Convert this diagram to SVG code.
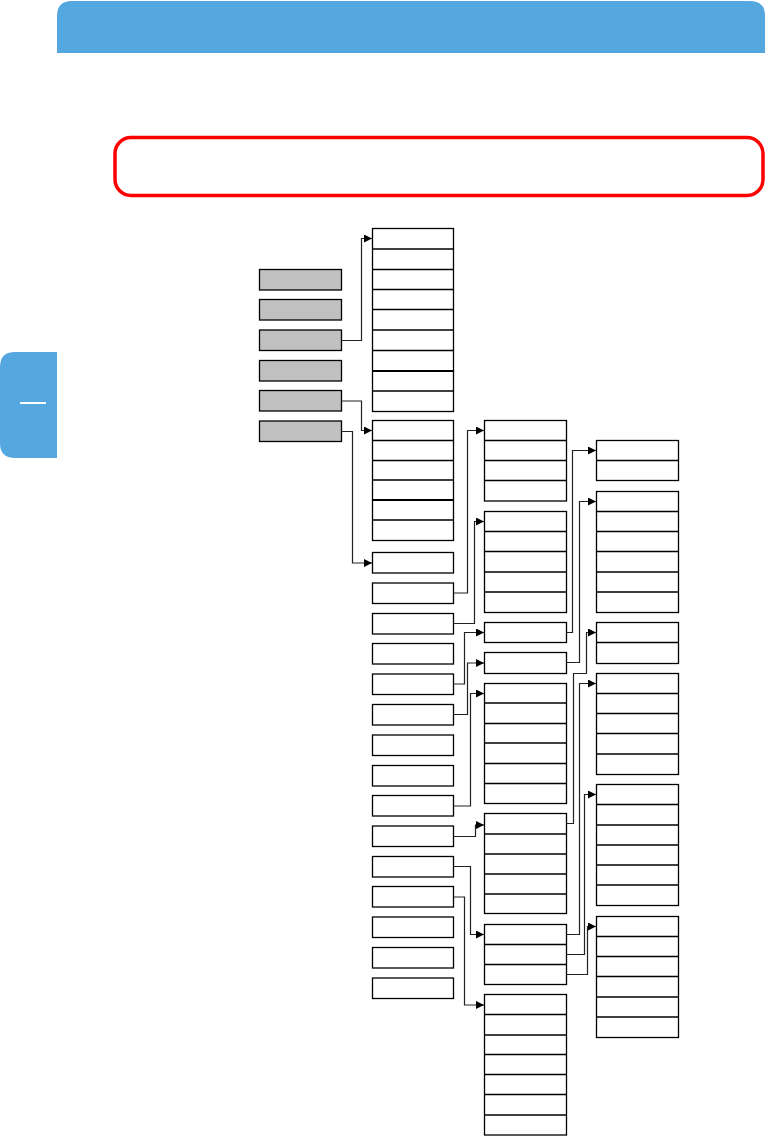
<svg xmlns="http://www.w3.org/2000/svg" width="766" height="1136" viewBox="0 0 766 1136">
<style>
.box{fill:#fff;stroke:#000;stroke-width:1.3}
.gray{fill:#c0c0c0;stroke:#000;stroke-width:1.3}
.div{stroke:#000;stroke-width:1.3}
.thick{stroke:#000;stroke-width:2.2}
.conn{fill:none;stroke:#222;stroke-width:1.2;marker-end:url(#arr)}
</style>
<defs>
<marker id="arr" markerUnits="userSpaceOnUse" markerWidth="9" markerHeight="8" refX="8" refY="4" orient="auto">
<path d="M0,0 L8,4 L0,8 z" fill="#000"/>
</marker>
</defs>
<g id="header"><path d="M57,53 V16 Q57,1 72,1 H750 Q765,1 765,16 V53 Z" fill="#55a7e0"/></g>
<g id="note"><rect x="115" y="137.5" width="648" height="58" rx="16" fill="#fff" stroke="#ff0000" stroke-width="3.5"/></g>
<g id="tab"><path d="M57,352 V458 H15 Q0,458 0,443 V367 Q0,352 15,352 Z" fill="#55a7e0"/><line x1="20" y1="403" x2="46" y2="403" stroke="#fff" stroke-width="2"/></g>

<g id="menu">
<rect class="gray" x="259.5" y="269.5" width="82" height="20.5"/>
<rect class="gray" x="259.5" y="299.5" width="82" height="20.5"/>
<rect class="gray" x="259.5" y="330" width="82" height="20.5"/>
<rect class="gray" x="259.5" y="360.5" width="82" height="20.5"/>
<rect class="gray" x="259.5" y="390.5" width="82" height="20.5"/>
<rect class="gray" x="259.5" y="421" width="82" height="20.5"/>
</g>

<g id="stack1">
<rect class="box" x="372.5" y="228.5" width="81" height="183"/>
<path class="div" d="M372.5,249H453.5M372.5,269.5H453.5M372.5,289.5H453.5M372.5,309.5H453.5M372.5,330H453.5M372.5,350.5H453.5M372.5,391H453.5"/>
<path class="thick" d="M372.5,371H453.5"/>
</g>
<g id="stack2">
<rect class="box" x="372.5" y="420.5" width="81" height="120"/>
<path class="div" d="M372.5,440.5H453.5M372.5,460.5H453.5M372.5,480H453.5M372.5,520H453.5"/>
<path class="thick" d="M372.5,500H453.5"/>
</g>
<g id="items">
<rect class="box" x="372.5" y="552.5" width="81" height="20.5"/>
<rect class="box" x="372.5" y="583" width="81" height="20.5"/>
<rect class="box" x="372.5" y="613.5" width="81" height="20.5"/>
<rect class="box" x="372.5" y="643.5" width="81" height="20.5"/>
<rect class="box" x="372.5" y="674" width="81" height="20.5"/>
<rect class="box" x="372.5" y="704.5" width="81" height="20.5"/>
<rect class="box" x="372.5" y="735" width="81" height="20.5"/>
<rect class="box" x="372.5" y="765.5" width="81" height="20.5"/>
<rect class="box" x="372.5" y="795.5" width="81" height="20.5"/>
<rect class="box" x="372.5" y="826" width="81" height="20.5"/>
<rect class="box" x="372.5" y="856.5" width="81" height="20.5"/>
<rect class="box" x="372.5" y="886.5" width="81" height="20.5"/>
<rect class="box" x="372.5" y="917" width="81" height="20.5"/>
<rect class="box" x="372.5" y="947.5" width="81" height="20.5"/>
<rect class="box" x="372.5" y="978" width="81" height="20.5"/>
</g>

<g id="stackA">
<rect class="box" x="484.5" y="420.5" width="82" height="80.5"/>
<path class="div" d="M484.5,440.5H566.5M484.5,460.5H566.5M484.5,480.5H566.5"/>
</g>
<g id="stackB">
<rect class="box" x="484.5" y="511.5" width="82" height="101"/>
<path class="div" d="M484.5,531.5H566.5M484.5,551.5H566.5M484.5,572H566.5M484.5,592H566.5"/>
</g>
<g id="boxC1"><rect class="box" x="484.5" y="622.5" width="82" height="20"/></g>
<g id="boxC2"><rect class="box" x="484.5" y="652.5" width="82" height="21"/></g>
<g id="stackC">
<rect class="box" x="484.5" y="683.5" width="82" height="120"/>
<path class="div" d="M484.5,703H566.5M484.5,723.5H566.5M484.5,743H566.5M484.5,763.5H566.5M484.5,783.5H566.5"/>
</g>
<g id="stackD">
<rect class="box" x="484.5" y="813.5" width="82" height="100"/>
<path class="div" d="M484.5,834H566.5M484.5,854H566.5M484.5,874H566.5M484.5,894H566.5"/>
</g>
<g id="stackE">
<rect class="box" x="484.5" y="924.5" width="82" height="60"/>
<path class="div" d="M484.5,944.5H566.5M484.5,964.5H566.5"/>
</g>
<g id="stackF">
<rect class="box" x="484.5" y="994.5" width="82" height="140.5"/>
<path class="div" d="M484.5,1014.5H566.5M484.5,1035H566.5M484.5,1054.5H566.5M484.5,1074.5H566.5M484.5,1094.5H566.5M484.5,1115H566.5"/>
</g>

<g id="stackG">
<rect class="box" x="596.5" y="440.5" width="82" height="40"/>
<path class="div" d="M596.5,460.5H678.5"/>
</g>
<g id="stackH">
<rect class="box" x="596.5" y="491.5" width="82" height="121"/>
<path class="div" d="M596.5,511.5H678.5M596.5,531.5H678.5M596.5,551.5H678.5M596.5,572H678.5M596.5,592H678.5"/>
</g>
<g id="stackI">
<rect class="box" x="596.5" y="622.5" width="82" height="41"/>
<path class="div" d="M596.5,642.5H678.5"/>
</g>
<g id="stackJ">
<rect class="box" x="596.5" y="673.5" width="82" height="101"/>
<path class="div" d="M596.5,693.5H678.5M596.5,713.5H678.5M596.5,733.5H678.5M596.5,754H678.5"/>
</g>
<g id="stackK">
<rect class="box" x="596.5" y="784.5" width="82" height="121"/>
<path class="div" d="M596.5,804.5H678.5M596.5,825H678.5M596.5,845H678.5M596.5,865H678.5M596.5,885H678.5"/>
</g>
<g id="stackL">
<rect class="box" x="596.5" y="916.5" width="82" height="121"/>
<path class="div" d="M596.5,936.5H678.5M596.5,956.5H678.5M596.5,976.5H678.5M596.5,997H678.5M596.5,1017H678.5"/>
</g>

<g id="connectors">
<path class="conn" d="M341.5,340.5H361.5V238.5H372"/>
<path class="conn" d="M341.5,401H361.5V430.5H372"/>
<path class="conn" d="M341.5,431.5H352.5V563H372"/>
<path class="conn" d="M453.5,593H467.5V430.5H484"/>
<path class="conn" d="M453.5,623.5H474.5V521.5H484"/>
<path class="conn" d="M453.5,684H464.5V632.5H484"/>
<path class="conn" d="M453.5,714.5H467.5V663H484"/>
<path class="conn" d="M453.5,806H470.5V693.5H484"/>
<path class="conn" d="M453.5,836.5H475.5V825H484"/>
<path class="conn" d="M453.5,866.5H470.5V934.5H484"/>
<path class="conn" d="M453.5,897H464.5V1005H484"/>
<path class="conn" d="M566.5,632.5H572.5V450.5H596"/>
<path class="conn" d="M566.5,662.5H579.5V501.5H596"/>
<path class="conn" d="M566.5,823.5H573.5V673.5H586.5V632.5H596"/>
<path class="conn" d="M566.5,934.5H579.5V683.5H596"/>
<path class="conn" d="M566.5,954.5H584.5V794.5H596"/>
<path class="conn" d="M566.5,974.5H587.5V926.5H596"/>
</g>
</svg>
